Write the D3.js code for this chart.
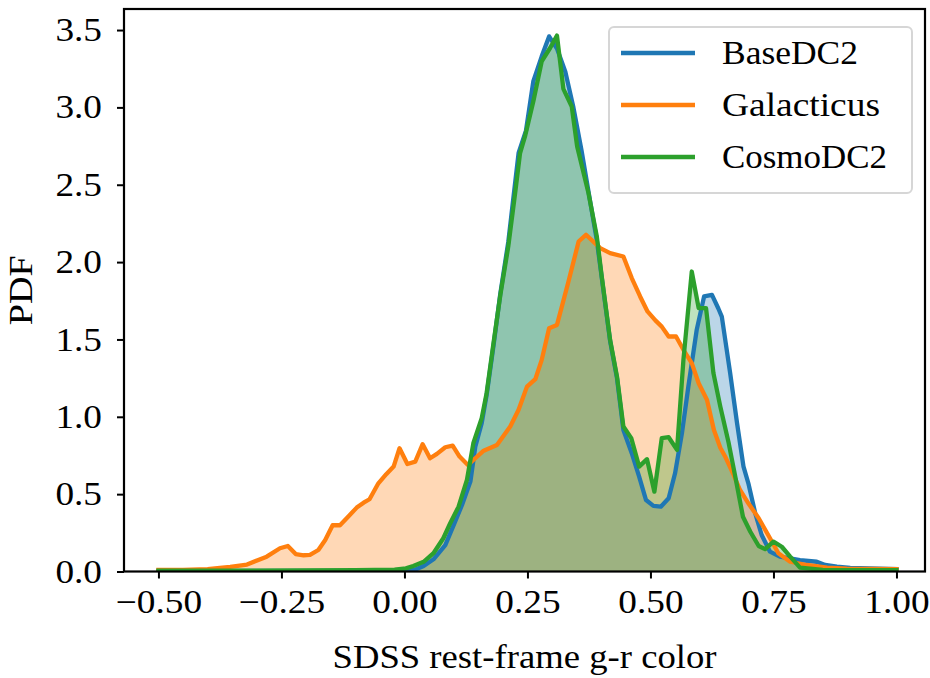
<!DOCTYPE html>
<html><head><meta charset="utf-8">
<script src="https://cdn.jsdelivr.net/npm/d3@7"></script>
<style>body{margin:0;background:#fff}svg text{font-family:"Liberation Serif",serif;fill:#000}</style>
</head><body><svg id="c" width="930" height="678"></svg>
<script>
const seriesNames = ["BaseDC2", "Galacticus", "CosmoDC2"];
const seriesColors = ["#1f77b4", "#ff7f0e", "#2ca02c"];
const xTicks = [-0.5, -0.25, 0, 0.25, 0.5, 0.75, 1.0];
const yTicks = [0, 0.5, 1.0, 1.5, 2.0, 2.5, 3.0, 3.5];

const baseX = [-0.5,0.0,0.02,0.039,0.059,0.083,0.10,0.117,0.134,0.144,0.157,0.167,0.181,0.195,0.211,0.232,0.247,0.262,0.279,0.294,0.310,0.327,0.343,0.36,0.376,0.391,0.401,0.418,0.432,0.445,0.462,0.477,0.491,0.506,0.521,0.537,0.55,0.564,0.577,0.594,0.609,0.625,0.638,0.645,0.662,0.676,0.689,0.699,0.713,0.726,0.743,0.763,0.784,0.804,0.838,0.855,0.879,0.906,1.0];
const baseY = [0.003,0.005,0.01,0.036,0.079,0.171,0.30,0.43,0.581,0.807,0.959,1.14,1.46,1.80,2.13,2.705,2.85,3.17,3.33,3.459,3.38,3.23,3.006,2.72,2.42,2.14,1.9,1.49,1.25,0.915,0.765,0.613,0.462,0.424,0.419,0.474,0.635,0.894,1.195,1.562,1.778,1.788,1.70,1.648,1.282,0.959,0.68,0.57,0.376,0.236,0.128,0.096,0.085,0.074,0.063,0.042,0.031,0.023,0.015];

const galX = [-0.5,-0.45,-0.40,-0.37,-0.354,-0.32,-0.297,-0.28,-0.253,-0.237,-0.221,-0.205,-0.192,-0.175,-0.161,-0.146,-0.131,-0.114,-0.097,-0.083,-0.071,-0.053,-0.037,-0.022,-0.010,0.006,0.022,0.037,0.052,0.066,0.083,0.098,0.112,0.129,0.144,0.161,0.188,0.215,0.232,0.249,0.266,0.279,0.294,0.310,0.333,0.354,0.369,0.398,0.418,0.445,0.462,0.479,0.494,0.51,0.523,0.537,0.552,0.567,0.584,0.598,0.615,0.629,0.642,0.652,0.669,0.682,0.699,0.72,0.743,0.76,0.784,0.818,0.859,0.899,1.0];
const galY = [0.01,0.01,0.015,0.025,0.03,0.045,0.075,0.096,0.15,0.165,0.113,0.105,0.107,0.139,0.204,0.299,0.299,0.355,0.413,0.445,0.467,0.57,0.629,0.678,0.797,0.695,0.71,0.823,0.732,0.76,0.803,0.814,0.743,0.689,0.732,0.781,0.818,0.937,1.045,1.195,1.243,1.368,1.573,1.594,1.87,2.133,2.177,2.09,2.058,2.036,1.897,1.778,1.681,1.623,1.583,1.519,1.519,1.433,1.347,1.217,1.109,0.915,0.80,0.742,0.624,0.527,0.441,0.344,0.215,0.118,0.063,0.042,0.025,0.018,0.015];

const cosmoX = [-0.5,-0.30,-0.10,-0.02,0.003,0.018,0.039,0.059,0.079,0.093,0.11,0.127,0.14,0.157,0.167,0.181,0.195,0.211,0.225,0.235,0.245,0.262,0.279,0.296,0.310,0.323,0.340,0.351,0.374,0.391,0.401,0.418,0.432,0.445,0.461,0.477,0.493,0.508,0.523,0.537,0.554,0.567,0.584,0.598,0.613,0.628,0.642,0.659,0.672,0.688,0.703,0.72,0.733,0.75,0.767,0.784,0.804,0.85,1.0];
const cosmoY = [0.005,0.005,0.008,0.012,0.02,0.036,0.063,0.118,0.215,0.312,0.419,0.592,0.829,0.991,1.153,1.476,1.79,2.101,2.446,2.705,2.812,3.039,3.298,3.384,3.464,3.12,3.006,2.748,2.446,2.166,1.907,1.497,1.26,0.937,0.862,0.678,0.726,0.516,0.862,0.868,0.786,1.368,1.939,1.702,1.702,1.282,1.066,0.83,0.62,0.354,0.257,0.165,0.145,0.193,0.16,0.096,0.025,0.01,0.008];

const series = [
  {name: seriesNames[0], color: seriesColors[0], xs: baseX, ys: baseY},
  {name: seriesNames[1], color: seriesColors[1], xs: galX, ys: galY},
  {name: seriesNames[2], color: seriesColors[2], xs: cosmoX, ys: cosmoY}
];

const svg = d3.select("#c");
const L = 124, R = 925, T = 9, B = 571.5;
const x = d3.scaleLinear().domain([-0.57, 1.058]).range([L, R]);
const y = d3.scaleLinear().domain([0, 3.636]).range([B, T]);

const area = d3.area().x(d => x(d[0])).y0(y(0)).y1(d => y(d[1]));
const line = d3.line().x(d => x(d[0])).y(d => y(d[1]));

svg.append("clipPath").attr("id","pc").append("rect").attr("x",L).attr("y",T).attr("width",R-L).attr("height",B-T);
const g = svg.append("g").attr("clip-path","url(#pc)");
series.forEach(s => {
  const pts = s.xs.map((v,i)=>[v, s.ys[i]]);
  g.append("path").attr("d", area(pts)).attr("fill", s.color).attr("fill-opacity", 0.3);
});
series.forEach(s => {
  const pts = s.xs.map((v,i)=>[v, s.ys[i]]);
  g.append("path").attr("d", line(pts)).attr("fill","none").attr("stroke", s.color)
    .attr("stroke-width", 4.3).attr("stroke-linejoin","round").attr("stroke-linecap","square");
});

// axes
const fs = 33;
const stretch = sel => sel.each(function(){
  const w = this.getComputedTextLength();
  d3.select(this).attr("textLength", w*1.13).attr("lengthAdjust","spacingAndGlyphs");
});
const xa = svg.append("g").attr("transform",`translate(0,${B})`)
  .call(d3.axisBottom(x).tickValues(xTicks).tickSize(7).tickPadding(11).tickFormat(d => (d<0?"\u2212":"") + Math.abs(d).toFixed(2)));
const ya = svg.append("g").attr("transform",`translate(${L},0)`)
  .call(d3.axisLeft(y).tickValues(yTicks).tickSize(7).tickPadding(15).tickFormat(d3.format(".1f")));
[xa, ya].forEach(a => {
  a.select(".domain").remove();
  a.selectAll(".tick line").attr("stroke","#000").attr("stroke-width",2);
  a.selectAll(".tick text").attr("font-size", fs).attr("font-family","Liberation Serif").call(stretch);
});
svg.append("rect").attr("x",L).attr("y",T).attr("width",R-L).attr("height",B-T)
  .attr("fill","none").attr("stroke","#000").attr("stroke-width",2.2);

svg.append("text").attr("x",(L+R)/2).attr("y",668).attr("text-anchor","middle").attr("font-size",fs)
  .attr("textLength",384).attr("lengthAdjust","spacingAndGlyphs").text("SDSS rest-frame g-r color");
svg.append("text").attr("transform",`translate(32,${(T+B)/2}) rotate(-90)`).attr("text-anchor","middle").attr("font-size",fs)
  .attr("textLength",70).attr("lengthAdjust","spacingAndGlyphs").text("PDF");

// legend
const legendW = [136, 158, 165];
const lg = svg.append("g");
lg.append("rect").attr("x",609).attr("y",27).attr("width",303).attr("height",166).attr("rx",5)
  .attr("fill","#fff").attr("fill-opacity",0.8).attr("stroke","#d6d6d6").attr("stroke-width",2);
series.forEach((s,i) => {
  const yy = 53 + i*52;
  lg.append("line").attr("x1",621).attr("x2",695).attr("y1",yy).attr("y2",yy).attr("stroke",s.color).attr("stroke-width",4.3);
  lg.append("text").attr("x",722).attr("y",yy+11).attr("font-size",fs)
    .attr("textLength",legendW[i]).attr("lengthAdjust","spacingAndGlyphs").text(s.name);
});
</script></body></html>
